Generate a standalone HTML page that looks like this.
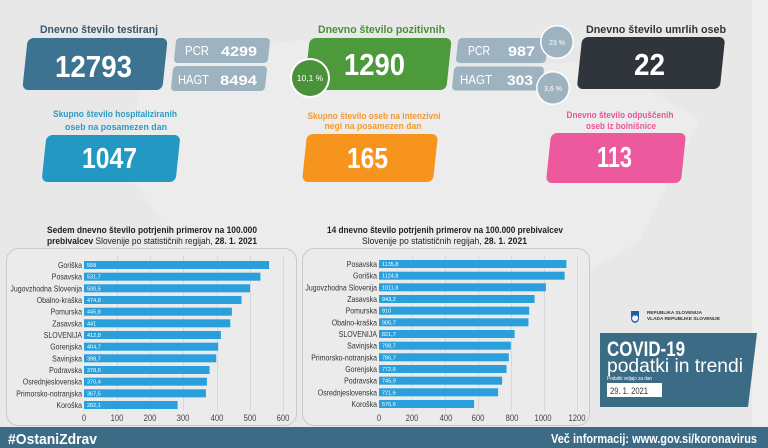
<!DOCTYPE html>
<html><head><meta charset="utf-8"><style>
html,body{margin:0;padding:0;background:#e9e9e9;}
svg{display:block;font-family:"Liberation Sans",sans-serif;}
</style></head><body>
<svg width="768" height="448" viewBox="0 0 768 448" xmlns="http://www.w3.org/2000/svg">
<rect width="768" height="448" fill="#e8e8e8"/>
<polygon points="150,60 300,40 470,70 600,60 700,120 640,240 560,290 420,300 300,280 180,250 120,160" fill="#ececec"/>
<rect x="752" y="0" width="16" height="428" fill="#eeeeee"/>

<!-- Top labels -->
<g font-weight="bold" font-size="11">
<text x="40" y="33" textLength="118" lengthAdjust="spacingAndGlyphs" fill="#3b5668">Dnevno število testiranj</text>
<text x="318" y="33" textLength="127" lengthAdjust="spacingAndGlyphs" fill="#4a8f3a">Dnevno število pozitivnih</text>
<text x="586" y="33" textLength="140" lengthAdjust="spacingAndGlyphs" fill="#333">Dnevno število umrlih oseb</text>
</g>

<!-- Box: testing -->
<g transform="translate(95,64) skewX(-6)"><rect x="-70" y="-26" width="140" height="52" rx="6" fill="#3c7391"/></g>
<text x="55" y="77" font-size="31" font-weight="bold" fill="#fff" textLength="77" lengthAdjust="spacingAndGlyphs">12793</text>
<g transform="translate(222,50.5) skewX(-6)"><rect x="-47" y="-12.5" width="94" height="25" rx="4" fill="#9eb3c0"/></g>
<g transform="translate(219,78.5) skewX(-6)"><rect x="-47" y="-12.5" width="94" height="25" rx="4" fill="#9eb3c0"/></g>
<text x="185" y="55" font-size="13" fill="#fff" textLength="24" lengthAdjust="spacingAndGlyphs">PCR</text>
<text x="221" y="56" font-size="14" font-weight="bold" fill="#fff" textLength="36" lengthAdjust="spacingAndGlyphs">4299</text>
<text x="178" y="84" font-size="13" fill="#fff" textLength="31" lengthAdjust="spacingAndGlyphs">HAGT</text>
<text x="220" y="85" font-size="14" font-weight="bold" fill="#fff" textLength="37" lengthAdjust="spacingAndGlyphs">8494</text>

<!-- Box: positive -->
<g transform="translate(378,64) skewX(-6)"><rect x="-71" y="-26" width="142" height="52" rx="6" fill="#4c9a3b"/></g>
<text x="344" y="75" font-size="31" font-weight="bold" fill="#fff" textLength="61" lengthAdjust="spacingAndGlyphs">1290</text>
<circle cx="310" cy="78" r="20" fill="#fff"/>
<circle cx="310" cy="78" r="18" fill="#4a9239"/>
<text x="310" y="81" font-size="8.5" fill="#fff" text-anchor="middle">10,1 %</text>
<g transform="translate(502,50.5) skewX(-6)"><rect x="-45" y="-12.5" width="90" height="25" rx="4" fill="#9eb3c0"/></g>
<g transform="translate(498,78.5) skewX(-6)"><rect x="-45" y="-12" width="90" height="24" rx="4" fill="#9eb3c0"/></g>
<text x="468" y="55" font-size="13" fill="#fff" textLength="22" lengthAdjust="spacingAndGlyphs">PCR</text>
<text x="508" y="56" font-size="14" font-weight="bold" fill="#fff" textLength="27" lengthAdjust="spacingAndGlyphs">987</text>
<text x="460" y="84" font-size="13" fill="#fff" textLength="32" lengthAdjust="spacingAndGlyphs">HAGT</text>
<text x="507" y="85" font-size="14" font-weight="bold" fill="#fff" textLength="26" lengthAdjust="spacingAndGlyphs">303</text>
<circle cx="557" cy="42" r="17" fill="#fff"/>
<circle cx="557" cy="42" r="15.5" fill="#9eb3c0"/>
<text x="557" y="45" font-size="7" fill="#fff" text-anchor="middle">23 %</text>
<circle cx="553" cy="88" r="17" fill="#fff"/>
<circle cx="553" cy="88" r="15.5" fill="#9eb3c0"/>
<text x="553" y="91" font-size="7" fill="#fff" text-anchor="middle">3,6 %</text>

<!-- Box: deaths -->
<g transform="translate(651,63) skewX(-6)"><rect x="-71.5" y="-26" width="143" height="52" rx="6" fill="#2f353a"/></g>
<text x="634" y="75" font-size="31" font-weight="bold" fill="#fff" textLength="31" lengthAdjust="spacingAndGlyphs">22</text>

<!-- Row 2 labels -->
<g font-weight="bold" font-size="9.5" text-anchor="middle">
<text x="115" y="117" fill="#2a9cc5" textLength="124" lengthAdjust="spacingAndGlyphs">Skupno število hospitaliziranih</text>
<text x="116" y="130" fill="#2a9cc5" textLength="102" lengthAdjust="spacingAndGlyphs">oseb na posamezen dan</text>
<text x="374" y="119" fill="#f39a2c" textLength="133" lengthAdjust="spacingAndGlyphs">Skupno število oseb na intenzivni</text>
<text x="373" y="129" fill="#f39a2c" textLength="97" lengthAdjust="spacingAndGlyphs">negi na posamezen dan</text>
<text x="620" y="118" fill="#e8559a" textLength="107" lengthAdjust="spacingAndGlyphs">Dnevno število odpuščenih</text>
<text x="621" y="129" fill="#e8559a" textLength="70" lengthAdjust="spacingAndGlyphs">oseb iz bolnišnice</text>
</g>

<g transform="translate(111,158.5) skewX(-6)"><rect x="-67" y="-23.5" width="134" height="47" rx="6" fill="#2398c2"/></g>
<text x="82" y="168" font-size="29" font-weight="bold" fill="#fff" textLength="55" lengthAdjust="spacingAndGlyphs">1047</text>
<g transform="translate(370,158) skewX(-6)"><rect x="-65.5" y="-24" width="131" height="48" rx="6" fill="#f7941d"/></g>
<text x="347" y="168" font-size="29" font-weight="bold" fill="#fff" textLength="41" lengthAdjust="spacingAndGlyphs">165</text>
<g transform="translate(616,158) skewX(-6)"><rect x="-67.5" y="-25" width="135" height="50" rx="6" fill="#ec5a9d"/></g>
<text x="597" y="167" font-size="29" font-weight="bold" fill="#fff" textLength="35" lengthAdjust="spacingAndGlyphs">113</text>

<!-- Chart titles -->
<g font-size="9.5" fill="#222">
<text x="47" y="233" font-weight="bold" textLength="210" lengthAdjust="spacingAndGlyphs">Sedem dnevno število potrjenih primerov na 100.000</text>
<text x="47" y="244" textLength="210" lengthAdjust="spacingAndGlyphs"><tspan font-weight="bold">prebivalcev</tspan> Slovenije po statističnih regijah, <tspan font-weight="bold">28. 1. 2021</tspan></text>
<text x="327" y="233" font-weight="bold" textLength="236" lengthAdjust="spacingAndGlyphs">14 dnevno število potrjenih primerov na 100.000 prebivalcev</text>
<text x="362" y="244" textLength="165" lengthAdjust="spacingAndGlyphs">Slovenije po statističnih regijah, <tspan font-weight="bold">28. 1. 2021</tspan></text>
</g>

<!-- Panels -->
<rect x="6.5" y="248.5" width="290" height="177" rx="12" fill="#ebebeb" stroke="#c9c9c9" stroke-width="1"/>
<rect x="302.5" y="248.5" width="287" height="177" rx="12" fill="#ebebeb" stroke="#c9c9c9" stroke-width="1"/>

<!-- Chart 1 -->
<g stroke="#d8d8d8" stroke-width="1">
<line x1="117.5" y1="256" x2="117.5" y2="411"/><line x1="150.5" y1="256" x2="150.5" y2="411"/><line x1="183.5" y1="256" x2="183.5" y2="411"/><line x1="217.5" y1="256" x2="217.5" y2="411"/><line x1="250.5" y1="256" x2="250.5" y2="411"/><line x1="283.5" y1="256" x2="283.5" y2="411"/>
</g>
<g fill="#29a0dc">
<rect x="84" y="261" width="185.1" height="8"/>
<rect x="84" y="272.7" width="176.4" height="8"/>
<rect x="84" y="284.3" width="166.0" height="8"/>
<rect x="84" y="296" width="157.5" height="8"/>
<rect x="84" y="307.7" width="147.9" height="8"/>
<rect x="84" y="319.3" width="146.3" height="8"/>
<rect x="84" y="331" width="136.9" height="8"/>
<rect x="84" y="342.7" width="134.2" height="8"/>
<rect x="84" y="354.3" width="132.2" height="8"/>
<rect x="84" y="366" width="125.6" height="8"/>
<rect x="84" y="377.7" width="122.9" height="8"/>
<rect x="84" y="389.3" width="121.9" height="8"/>
<rect x="84" y="401" width="93.6" height="8"/>
</g>
<g font-size="5.5" fill="#fff">
<text x="87" y="267">558</text><text x="87" y="278.7">531,7</text><text x="87" y="290.3">500,5</text><text x="87" y="302">474,8</text><text x="87" y="313.7">445,8</text><text x="87" y="325.3">441</text><text x="87" y="337">412,8</text><text x="87" y="348.7">404,7</text><text x="87" y="360.3">398,7</text><text x="87" y="372">378,6</text><text x="87" y="383.7">370,4</text><text x="87" y="395.3">367,5</text><text x="87" y="407">282,1</text>
</g>
<g font-size="8.5" fill="#333" text-anchor="end">
<text transform="translate(82,268) scale(0.82,1)">Goriška</text>
<text transform="translate(82,279.7) scale(0.82,1)">Posavska</text>
<text transform="translate(82,291.3) scale(0.82,1)">Jugovzhodna Slovenija</text>
<text transform="translate(82,303) scale(0.82,1)">Obalno-kraška</text>
<text transform="translate(82,314.7) scale(0.82,1)">Pomurska</text>
<text transform="translate(82,326.3) scale(0.82,1)">Zasavska</text>
<text transform="translate(82,338) scale(0.82,1)">SLOVENIJA</text>
<text transform="translate(82,349.7) scale(0.82,1)">Gorenjska</text>
<text transform="translate(82,361.3) scale(0.82,1)">Savinjska</text>
<text transform="translate(82,373) scale(0.82,1)">Podravska</text>
<text transform="translate(82,384.7) scale(0.82,1)">Osrednjeslovenska</text>
<text transform="translate(82,396.3) scale(0.82,1)">Primorsko-notranjska</text>
<text transform="translate(82,408) scale(0.82,1)">Koroška</text>
</g>
<g font-size="9" fill="#444" text-anchor="middle">
<text transform="translate(84,421) scale(0.85,1)">0</text>
<text transform="translate(117,421) scale(0.85,1)">100</text>
<text transform="translate(150,421) scale(0.85,1)">200</text>
<text transform="translate(183,421) scale(0.85,1)">300</text>
<text transform="translate(217,421) scale(0.85,1)">400</text>
<text transform="translate(250,421) scale(0.85,1)">500</text>
<text transform="translate(283,421) scale(0.85,1)">600</text>
</g>

<!-- Chart 2 -->
<g stroke="#d8d8d8" stroke-width="1">
<line x1="412.5" y1="256" x2="412.5" y2="411"/><line x1="445.5" y1="256" x2="445.5" y2="411"/><line x1="478.5" y1="256" x2="478.5" y2="411"/><line x1="511.5" y1="256" x2="511.5" y2="411"/><line x1="544.5" y1="256" x2="544.5" y2="411"/><line x1="577.5" y1="256" x2="577.5" y2="411"/>
</g>
<g fill="#29a0dc">
<rect x="379" y="260" width="187.4" height="8"/>
<rect x="379" y="271.7" width="185.6" height="8"/>
<rect x="379" y="283.3" width="166.9" height="8"/>
<rect x="379" y="295" width="155.6" height="8"/>
<rect x="379" y="306.7" width="150.2" height="8"/>
<rect x="379" y="318.3" width="149.4" height="8"/>
<rect x="379" y="330" width="135.6" height="8"/>
<rect x="379" y="341.7" width="131.8" height="8"/>
<rect x="379" y="353.3" width="129.8" height="8"/>
<rect x="379" y="365" width="127.5" height="8"/>
<rect x="379" y="376.7" width="123.1" height="8"/>
<rect x="379" y="388.3" width="119.1" height="8"/>
<rect x="379" y="400" width="95.1" height="8"/>
</g>
<g font-size="5.5" fill="#fff">
<text x="382" y="266">1135,8</text><text x="382" y="277.7">1124,8</text><text x="382" y="289.3">1011,8</text><text x="382" y="301">943,2</text><text x="382" y="312.7">910</text><text x="382" y="324.3">905,7</text><text x="382" y="336">821,7</text><text x="382" y="347.7">798,7</text><text x="382" y="359.3">786,7</text><text x="382" y="371">772,6</text><text x="382" y="382.7">745,9</text><text x="382" y="394.3">721,6</text><text x="382" y="406">576,6</text>
</g>
<g font-size="8.5" fill="#333" text-anchor="end">
<text transform="translate(377,267) scale(0.82,1)">Posavska</text>
<text transform="translate(377,278.7) scale(0.82,1)">Goriška</text>
<text transform="translate(377,290.3) scale(0.82,1)">Jugovzhodna Slovenija</text>
<text transform="translate(377,302) scale(0.82,1)">Zasavska</text>
<text transform="translate(377,313.7) scale(0.82,1)">Pomurska</text>
<text transform="translate(377,325.3) scale(0.82,1)">Obalno-kraška</text>
<text transform="translate(377,337) scale(0.82,1)">SLOVENIJA</text>
<text transform="translate(377,348.7) scale(0.82,1)">Savinjska</text>
<text transform="translate(377,360.3) scale(0.82,1)">Primorsko-notranjska</text>
<text transform="translate(377,372) scale(0.82,1)">Gorenjska</text>
<text transform="translate(377,383.7) scale(0.82,1)">Podravska</text>
<text transform="translate(377,395.3) scale(0.82,1)">Osrednjeslovenska</text>
<text transform="translate(377,407) scale(0.82,1)">Koroška</text>
</g>
<g font-size="9" fill="#444" text-anchor="middle">
<text transform="translate(379,421) scale(0.85,1)">0</text>
<text transform="translate(412,421) scale(0.85,1)">200</text>
<text transform="translate(446,421) scale(0.85,1)">400</text>
<text transform="translate(478,421) scale(0.85,1)">600</text>
<text transform="translate(512,421) scale(0.85,1)">800</text>
<text transform="translate(543,421) scale(0.85,1)">1000</text>
<text transform="translate(577,421) scale(0.85,1)">1200</text>
</g>

<!-- Logo -->
<path d="M631,311 h8 v7 q0,4 -4,5 q-4,-1 -4,-5 z" fill="#1f5fa6"/>
<path d="M632.5,317 l1.5,-2 l1.2,1.5 l1.2,-1.5 l1.6,2 v1 q0,2.5 -3,3.5 q-3,-1 -3,-3.5 z" fill="#fff"/>
<text x="647" y="314" font-size="4.6" font-weight="bold" fill="#333" textLength="55" lengthAdjust="spacingAndGlyphs">REPUBLIKA SLOVENIJA</text>
<text x="647" y="320" font-size="4.6" font-weight="bold" fill="#333" textLength="73" lengthAdjust="spacingAndGlyphs">VLADA REPUBLIKE SLOVENIJE</text>

<!-- COVID box -->
<path d="M600,333 H757 L748,407 H600 Z" fill="#3b6b85"/>
<text x="607" y="356" font-size="21" font-weight="bold" fill="#fff" textLength="78" lengthAdjust="spacingAndGlyphs">COVID-19</text>
<text x="607" y="372" font-size="19" fill="#fff" textLength="136" lengthAdjust="spacingAndGlyphs">podatki in trendi</text>
<text x="607" y="380" font-size="5.5" fill="#fff" textLength="45" lengthAdjust="spacingAndGlyphs">Podatki veljajo za dan</text>
<rect x="607" y="383" width="55" height="14" fill="#fff"/>
<text x="610" y="394" font-size="9" fill="#333" textLength="38" lengthAdjust="spacingAndGlyphs">29. 1. 2021</text>

<!-- Footer -->
<rect x="0" y="427" width="768" height="21" fill="#3b6b85"/>
<text x="8" y="444" font-size="15" font-weight="bold" fill="#fff" textLength="89" lengthAdjust="spacingAndGlyphs">#OstaniZdrav</text>
<text x="551" y="443" font-size="13" font-weight="bold" fill="#fff" textLength="206" lengthAdjust="spacingAndGlyphs">Več informacij: www.gov.si/koronavirus</text>
</svg>
</body></html>
